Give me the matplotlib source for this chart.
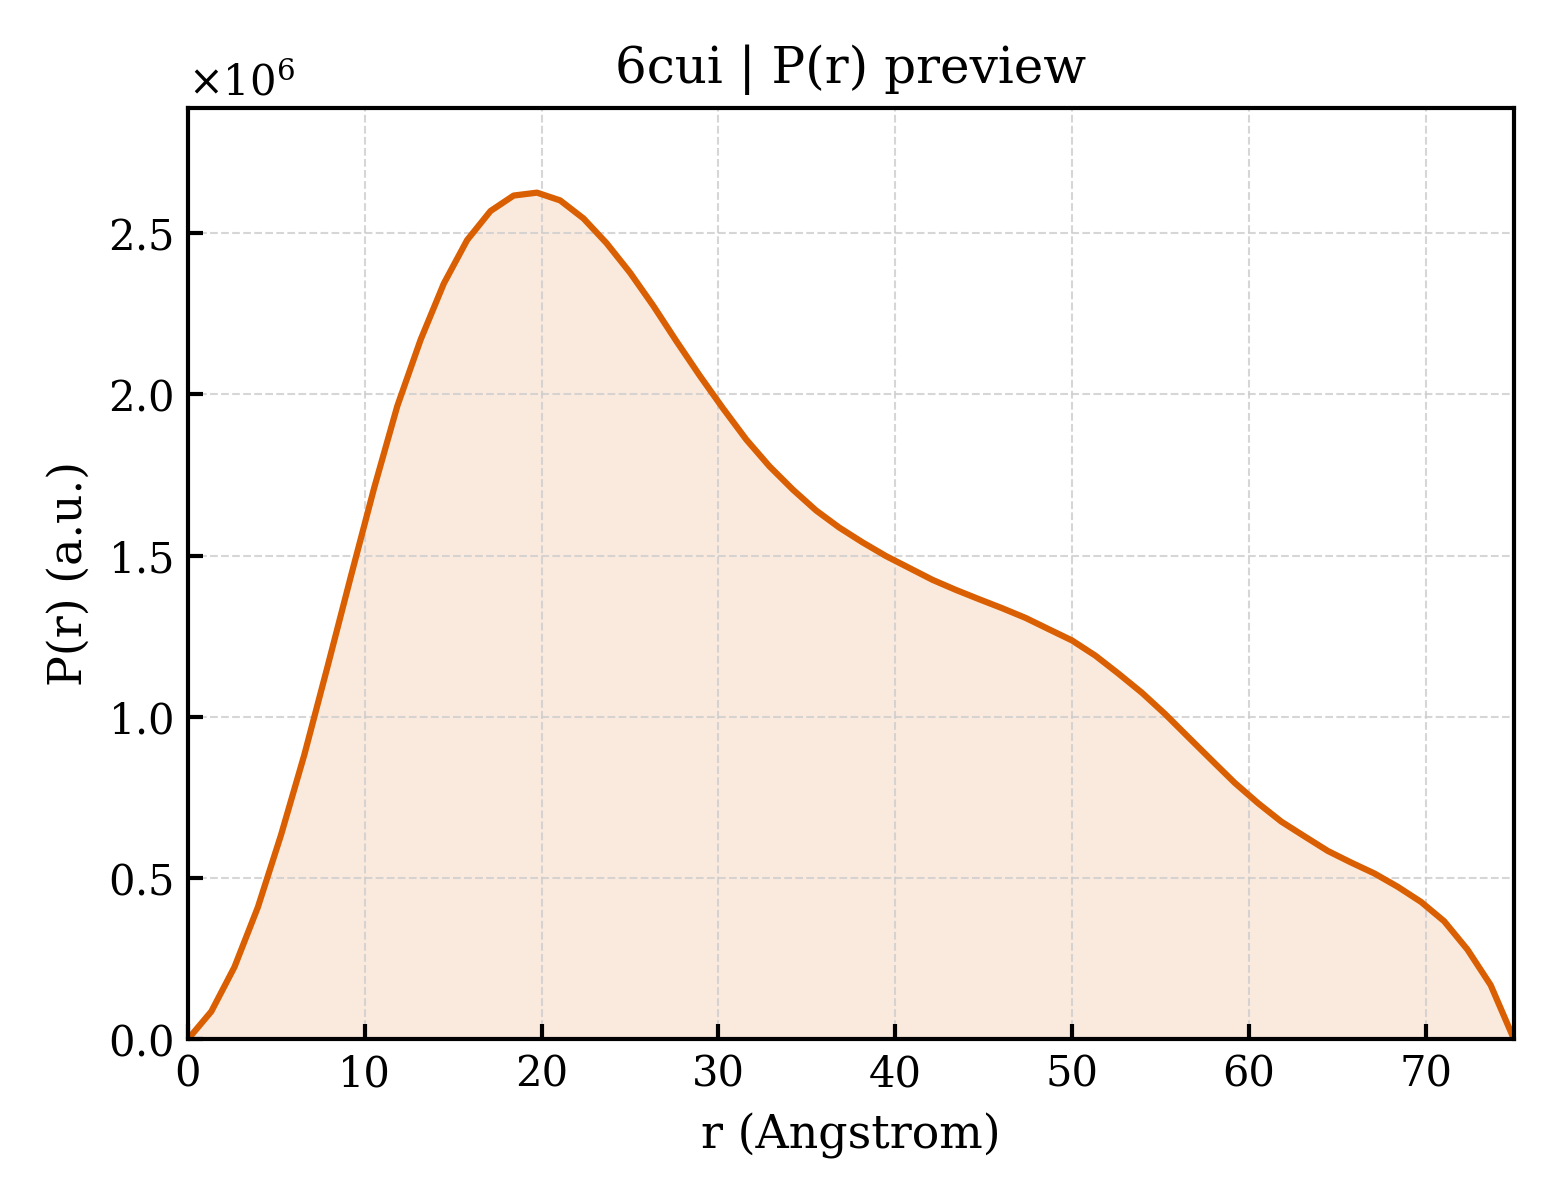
#!/usr/bin/env python3
"""Preview of the 6cui pair-distance distribution P(r)."""

import matplotlib

matplotlib.use("Agg")
import matplotlib.pyplot as plt

LINE_COLOR = "#d95f02"

# r grid (Angstrom), 58 evenly spaced points from 0 to 75
r_values = [
    0.00, 1.32, 2.63, 3.95, 5.26, 6.58, 7.89, 9.21, 10.53, 11.84,
    13.16, 14.47, 15.79, 17.11, 18.42, 19.74, 21.05, 22.37, 23.68, 25.00,
    26.32, 27.63, 28.95, 30.26, 31.58, 32.89, 34.21, 35.53, 36.84, 38.16,
    39.47, 40.79, 42.11, 43.42, 44.74, 46.05, 47.37, 48.68, 50.00, 51.32,
    52.63, 53.95, 55.26, 56.58, 57.89, 59.21, 60.53, 61.84, 63.16, 64.47,
    65.79, 67.11, 68.42, 69.74, 71.05, 72.37, 73.68, 75.00,
]

# P(r) in units of 1e6 (a.u.)
pr_values = [
    0.000, 0.086, 0.224, 0.409, 0.633, 0.882, 1.155, 1.435, 1.710, 1.964,
    2.170, 2.344, 2.479, 2.569, 2.617, 2.626, 2.602, 2.546, 2.469, 2.378,
    2.275, 2.165, 2.058, 1.957, 1.860, 1.777, 1.705, 1.640, 1.587, 1.541,
    1.499, 1.462, 1.425, 1.394, 1.365, 1.337, 1.307, 1.272, 1.237, 1.190,
    1.134, 1.075, 1.009, 0.937, 0.866, 0.795, 0.732, 0.675, 0.629, 0.584,
    0.548, 0.514, 0.473, 0.426, 0.366, 0.278, 0.168, 0.000,
]

TITLE = "6cui | P(r) preview"
X_LABEL = "r (Angstrom)"
Y_LABEL = "P(r) (a.u.)"


def main() -> None:
    plt.rcParams["font.family"] = ["DejaVu Serif"]
    plt.rcParams["mathtext.fontset"] = "dejavuserif"

    r = r_values
    pr = [v * 1e6 for v in pr_values]

    fig = plt.figure(figsize=(5.2, 4.0), dpi=300)
    ax = fig.add_axes([0.1205, 0.134, 0.85, 0.776])

    ax.fill_between(r, 0, pr, color=LINE_COLOR, alpha=0.13, linewidth=0)
    ax.plot(r, pr, color=LINE_COLOR, linewidth=1.5)

    ax.set_xlim(0, 75)
    ax.set_ylim(0, max(pr) * 1.1)
    ax.set_xticks([0, 10, 20, 30, 40, 50, 60, 70])
    ax.set_yticks([0, 0.5e6, 1.0e6, 1.5e6, 2.0e6, 2.5e6])

    ax.grid(True, color="#cccccc", linestyle="--", linewidth=0.5, alpha=0.8)

    ax.tick_params(direction="in", length=3.5, width=1.0, labelsize=10)
    for spine in ax.spines.values():
        spine.set_linewidth(1.0)
        spine.set_zorder(3)

    ax.ticklabel_format(axis="y", style="sci", scilimits=(0, 0), useMathText=True)
    ax.yaxis.get_offset_text().set_fontsize(10)

    ax.set_title(TITLE, fontsize=12)
    ax.set_xlabel(X_LABEL, fontsize=11)
    ax.set_ylabel(Y_LABEL, fontsize=11)

    fig.savefig("out.png", dpi=300)


if __name__ == "__main__":
    main()
